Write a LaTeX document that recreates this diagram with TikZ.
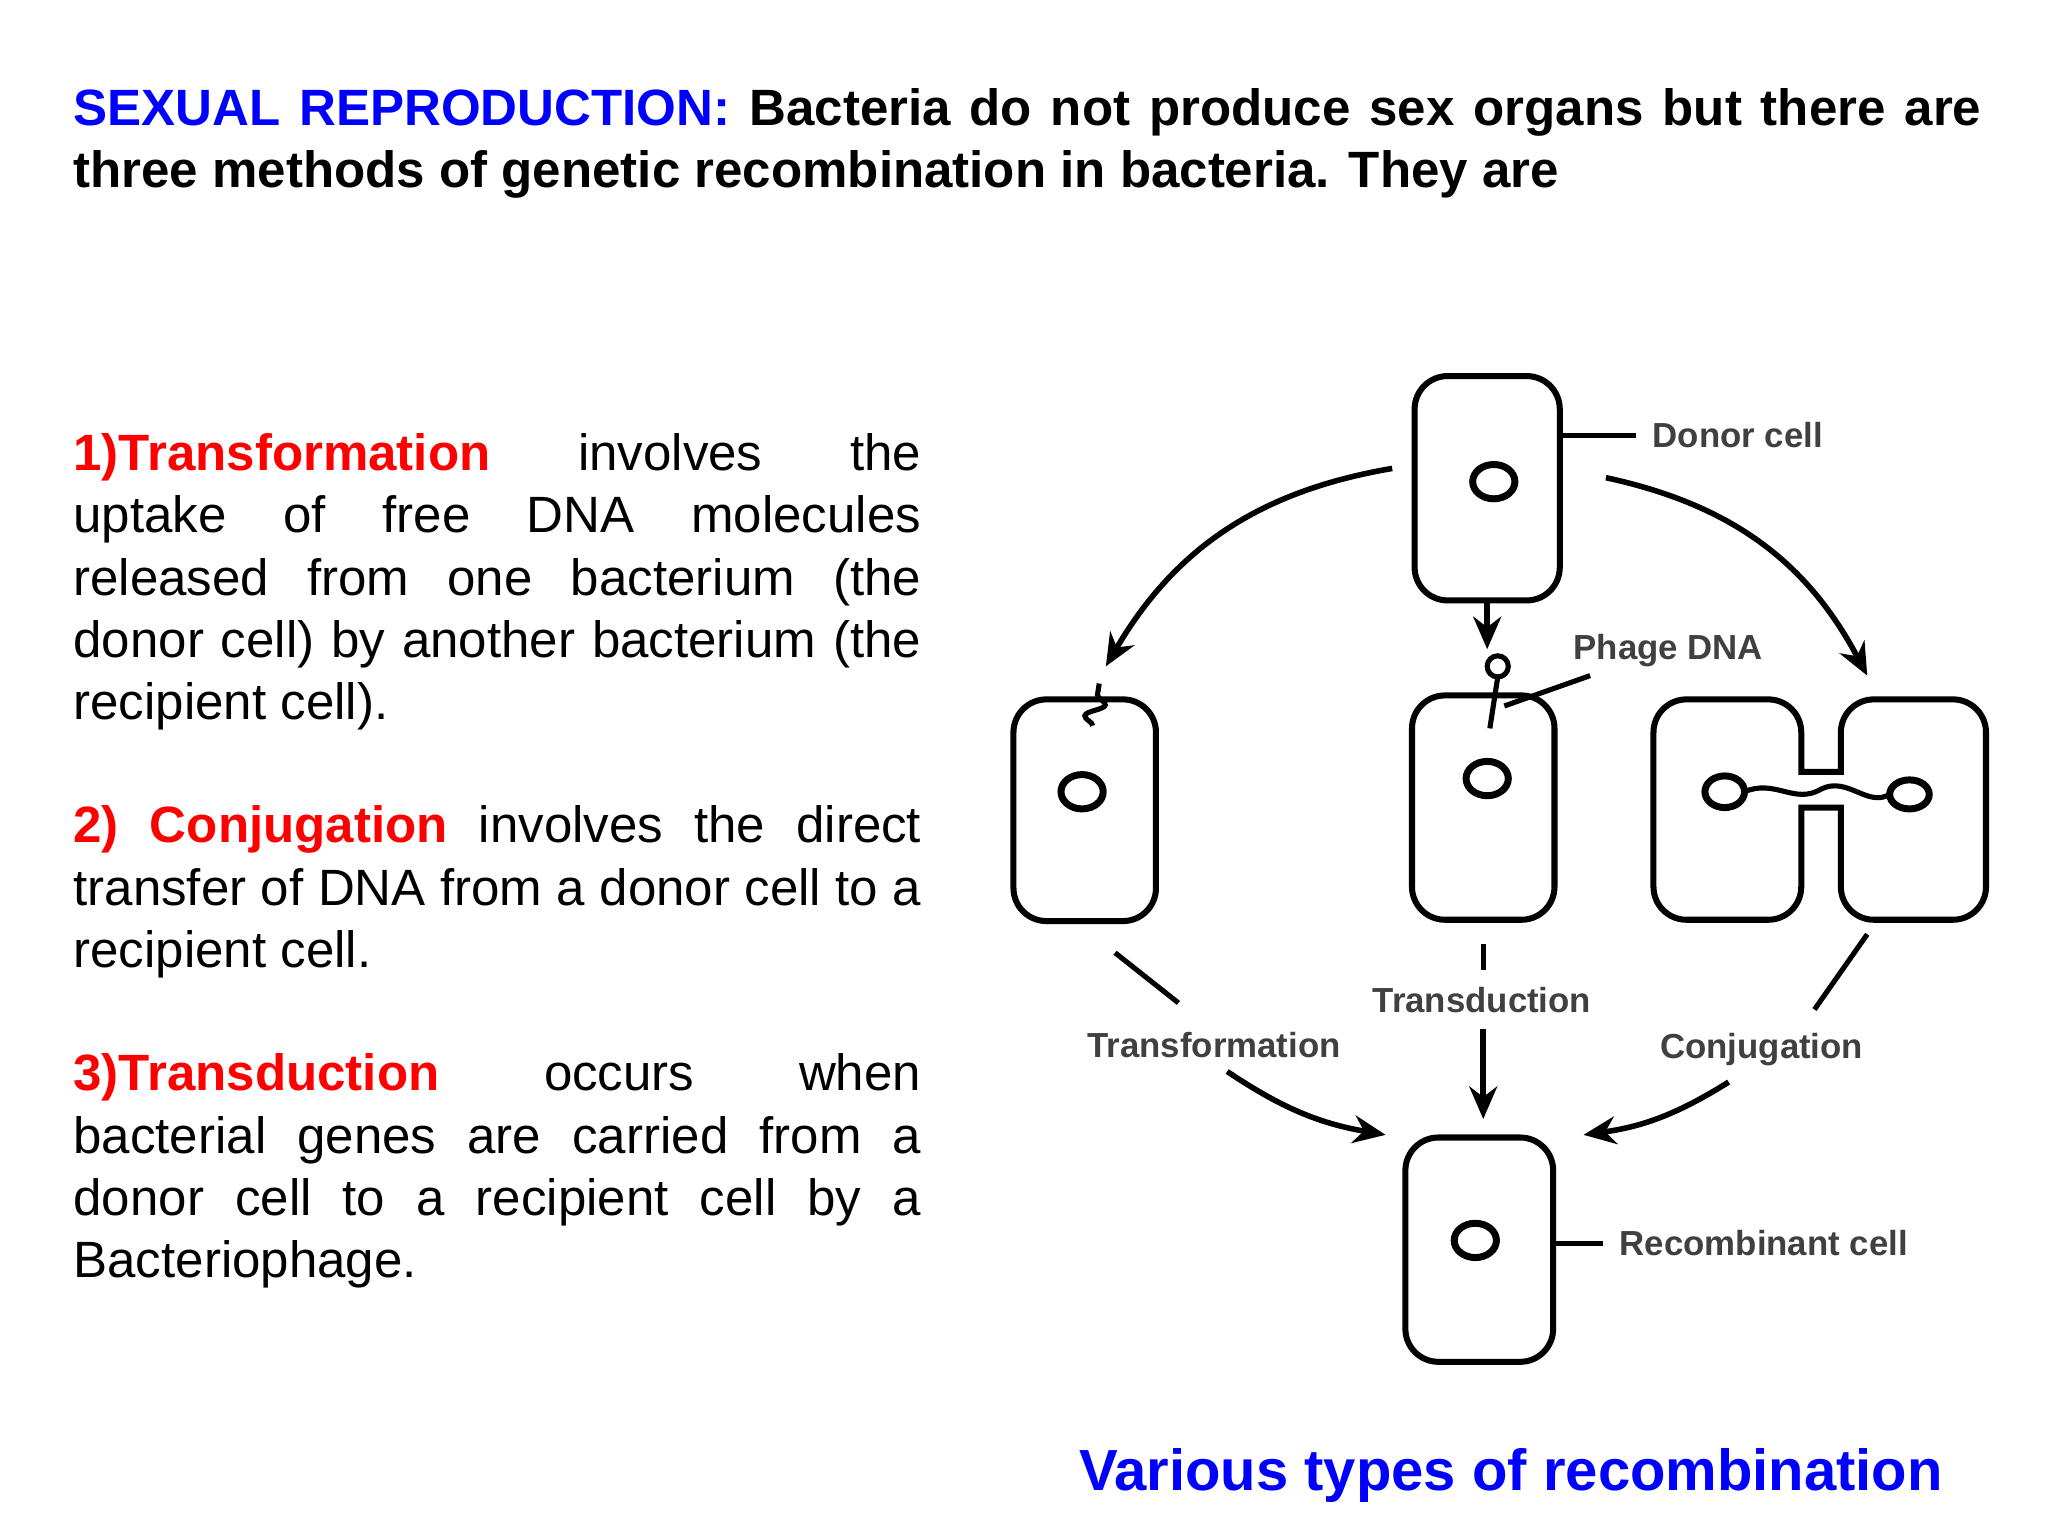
\documentclass[tikz,border=0pt]{standalone}
\usepackage{fontspec}
\setmainfont{Liberation Sans}
\usetikzlibrary{arrows.meta,decorations.pathmorphing}
\definecolor{hblue}{RGB}{0,0,255}
\definecolor{hred}{RGB}{255,0,0}
\begin{document}
\hyphenpenalty=10000 \exhyphenpenalty=10000
\begin{tikzpicture}[x=0.01cm,y=-0.01cm,
  cell/.style={draw,line width=1.3pt,rounded corners=0.25cm},
  nuc/.style={draw,line width=1.5pt},
  lab/.style={font=\fontsize{7.5pt}{9pt}\selectfont\bfseries,text=black!75},
  arr/.style={line width=1.2pt,-{Stealth[length=7pt,width=6pt]}},
  ln/.style={line width=1.1pt},
  para/.style={anchor=north west,align=justify,text width=6.42cm,inner sep=0pt,font=\fontsize{11pt}{13.4pt}\selectfont}]
\useasboundingbox (0,0) rectangle (1552,1164);
% header
\node[anchor=north west,inner sep=0pt,text width=14.45cm,align=justify,font=\fontsize{11pt}{13.4pt}\selectfont\bfseries] (head) at (55,66)
{\hyphenpenalty=10000 \textcolor{hblue}{SEXUAL REPRODUCTION:} Bacteria do not produce sex organs but there are three methods of genetic recombination in bacteria. They are};
\node[para] (p1) at (55,328) {\hyphenpenalty=10000 \textcolor{hred}{\textbf{1)Transformation}} involves the\linebreak uptake of free DNA molecules released from one bacterium (the donor cell) by another bacterium (the recipient cell).};
\node[para] (p2) at (55,610) {\hyphenpenalty=10000 \textcolor{hred}{\textbf{2) Conjugation}} involves the direct transfer of DNA from a donor cell to a\linebreak recipient cell.};
\node[para] (p3) at (55,798) {\hyphenpenalty=10000 \textcolor{hred}{\textbf{3)Transduction}} occurs when bacterial genes are carried from a\linebreak donor cell to a recipient cell by a Bacteriophage.};
\node[font=\fontsize{12.5pt}{14pt}\selectfont\bfseries,text=hblue] (cap) at (1145,1118) {Various types of recombination};
% donor
\draw[cell] (1072,285) rectangle (1182,455);
\draw[nuc] (1132,365) ellipse (16 and 13);
\node[lab,anchor=west] (dl) at (1240,330) {Donor cell};
\draw[ln] (1182,330) -- (dl.west);
% left cell
\draw[cell] (768,530) rectangle (876,698);
\draw[nuc] (820,600) ellipse (16 and 13);
\draw[ln,decorate,decoration={snake,amplitude=2pt,segment length=6pt}] (828,550) -- (833,518);
% middle cell
\draw[cell] (1070,527) rectangle (1178,697);
\draw[nuc] (1127,590) ellipse (16 and 13);
\draw[ln] (1135,505) circle (8);
\draw[ln] (1135,513) -- (1129,552);
\node[lab,anchor=west] (pd) at (1180,493) {Phage DNA};
\draw[ln] (1140,535) -- (1205,512);
% conjugation cells
\draw[line width=1.3pt] (1365,585) [sharp corners] -- (1365,558) [rounded corners=0.25cm] -- (1365,530) -- (1253,530) -- (1253,697) -- (1365,697) [sharp corners] -- (1365,612) -- (1395,612) -- (1395,650) [rounded corners=0.25cm] -- (1395,697) -- (1505,697) -- (1505,530) -- (1395,530) [sharp corners] -- (1395,585) -- cycle;
\draw[nuc] (1307,600) ellipse (15 and 12);
\draw[nuc] (1447,602) ellipse (15 and 11);
\draw[ln] (1322,600) .. controls (1345,590) and (1360,610) .. (1380,598) .. controls (1400,588) and (1415,612) .. (1432,602);
% recombinant
\draw[cell] (1065,862) rectangle (1177,1032);
\draw[nuc] (1118,940) ellipse (16 and 13);
\node[lab,anchor=west] (rl) at (1215,942) {Recombinant cell};
\draw[ln] (1177,942) -- (rl.west);
% arrows top
\draw[arr] (1055,355) to[bend right=25] (838,505);
\draw[arr] (1217,362) to[bend left=25] (1415,512);
\draw[arr] (1127,455) -- (1127,492);
% lower labels and arrows
\draw[ln] (845,722) -- (893,760);
\node[lab] (tf) at (920,792) {Transformation};
\draw[arr] (930,812) to[bend right=12] (1050,860);
\draw[ln] (1124,715) -- (1124,735);
\node[lab] (td) at (1123,758) {Transduction};
\draw[arr] (1124,780) -- (1124,848);
\draw[ln] (1415,708) -- (1375,765);
\node[lab] (cj) at (1335,795) {Conjugation};
\draw[arr] (1310,820) to[bend left=12] (1200,860);
\end{tikzpicture}
\end{document}
